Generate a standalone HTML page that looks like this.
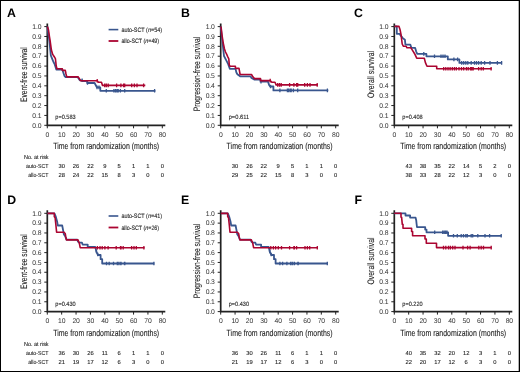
<!DOCTYPE html>
<html><head><meta charset="utf-8"><style>
html,body{margin:0;padding:0;background:#fff;}
body{width:520px;height:372px;overflow:hidden;}
svg{display:block;will-change:transform;}
text{font-family:"Liberation Sans",sans-serif;fill:#222;text-rendering:geometricPrecision;stroke:#222;stroke-width:0.1px;}
.let{font-size:12.3px;font-weight:bold;fill:#000;stroke:none;}
.tk{font-size:6.8px;letter-spacing:-0.15px;stroke:none;fill:#333;}
.xl{font-size:9px;}
.yl{font-size:9.4px;}
.pv{font-size:6.2px;}
.rk{font-size:5.8px;}
.lg{font-size:6.3px;}
</style></head><body>
<svg width="520" height="372" viewBox="0 0 520 372">
<rect x="0.5" y="0.5" width="519" height="371" fill="#fff" stroke="#000" stroke-width="1"/>
<rect x="518" y="0" width="1" height="372" fill="#000" fill-opacity="0.3"/>
<text x="7.0" y="17.1" class="let">A</text>
<path d="M47.3 23.6V125.3H165.3" stroke="#222" stroke-width="1.7" fill="none"/>
<path d="M44.3 125.30H47.3M44.3 115.43H47.3M44.3 105.56H47.3M44.3 95.69H47.3M44.3 85.82H47.3M44.3 75.95H47.3M44.3 66.08H47.3M44.3 56.21H47.3M44.3 46.34H47.3M44.3 36.47H47.3M44.3 26.60H47.3M47.30 125.3V128.3M61.67 125.3V128.3M76.05 125.3V128.3M90.42 125.3V128.3M104.80 125.3V128.3M119.17 125.3V128.3M133.55 125.3V128.3M147.93 125.3V128.3M162.30 125.3V128.3" stroke="#222" stroke-width="1" fill="none"/>
<text x="41.3" y="127.50" class="tk" text-anchor="end">0.0</text>
<text x="41.3" y="117.63" class="tk" text-anchor="end">0.1</text>
<text x="41.3" y="107.76" class="tk" text-anchor="end">0.2</text>
<text x="41.3" y="97.89" class="tk" text-anchor="end">0.3</text>
<text x="41.3" y="88.02" class="tk" text-anchor="end">0.4</text>
<text x="41.3" y="78.15" class="tk" text-anchor="end">0.5</text>
<text x="41.3" y="68.28" class="tk" text-anchor="end">0.6</text>
<text x="41.3" y="58.41" class="tk" text-anchor="end">0.7</text>
<text x="41.3" y="48.54" class="tk" text-anchor="end">0.8</text>
<text x="41.3" y="38.67" class="tk" text-anchor="end">0.9</text>
<text x="41.3" y="28.80" class="tk" text-anchor="end">1.0</text>
<text x="47.30" y="136.9" class="tk" text-anchor="middle">0</text>
<text x="61.67" y="136.9" class="tk" text-anchor="middle">10</text>
<text x="76.05" y="136.9" class="tk" text-anchor="middle">20</text>
<text x="90.42" y="136.9" class="tk" text-anchor="middle">30</text>
<text x="104.80" y="136.9" class="tk" text-anchor="middle">40</text>
<text x="119.17" y="136.9" class="tk" text-anchor="middle">50</text>
<text x="133.55" y="136.9" class="tk" text-anchor="middle">60</text>
<text x="147.93" y="136.9" class="tk" text-anchor="middle">70</text>
<text x="162.30" y="136.9" class="tk" text-anchor="middle">80</text>
<text x="53.2" y="149.3" class="xl" textLength="106" lengthAdjust="spacingAndGlyphs">Time from randomization (months)</text>
<text transform="translate(26.7,74.6) rotate(-90)" class="yl" text-anchor="middle" textLength="54.6" lengthAdjust="spacingAndGlyphs">Event-free survival</text>
<text x="55.3" y="119.2" class="pv" textLength="20.4" lengthAdjust="spacingAndGlyphs">p=0.583</text>
<text x="61.67" y="168.1" class="rk" text-anchor="middle">30</text>
<text x="76.05" y="168.1" class="rk" text-anchor="middle">26</text>
<text x="90.42" y="168.1" class="rk" text-anchor="middle">22</text>
<text x="104.80" y="168.1" class="rk" text-anchor="middle">9</text>
<text x="119.17" y="168.1" class="rk" text-anchor="middle">5</text>
<text x="133.55" y="168.1" class="rk" text-anchor="middle">1</text>
<text x="147.93" y="168.1" class="rk" text-anchor="middle">1</text>
<text x="162.30" y="168.1" class="rk" text-anchor="middle">0</text>
<text x="61.67" y="177.0" class="rk" text-anchor="middle">28</text>
<text x="76.05" y="177.0" class="rk" text-anchor="middle">24</text>
<text x="90.42" y="177.0" class="rk" text-anchor="middle">22</text>
<text x="104.80" y="177.0" class="rk" text-anchor="middle">15</text>
<text x="119.17" y="177.0" class="rk" text-anchor="middle">8</text>
<text x="133.55" y="177.0" class="rk" text-anchor="middle">3</text>
<text x="147.93" y="177.0" class="rk" text-anchor="middle">0</text>
<text x="162.30" y="177.0" class="rk" text-anchor="middle">0</text>
<text x="24.0" y="158.9" class="rk" textLength="24.6" lengthAdjust="spacingAndGlyphs">No. at risk</text>
<text x="26.0" y="168.1" class="rk" textLength="22.6" lengthAdjust="spacingAndGlyphs">auto-SCT</text>
<text x="28.2" y="177.0" class="rk" textLength="20.4" lengthAdjust="spacingAndGlyphs">allo-SCT</text>
<path d="M108.6 29.6H118.3" stroke="#39568e" stroke-width="1.6"/>
<path d="M108.6 41.0H118.3" stroke="#ab0531" stroke-width="1.8"/>
<text x="121.4" y="31.7" class="lg" textLength="40.6" lengthAdjust="spacingAndGlyphs">auto-SCT (<tspan font-style="italic">n</tspan>=54)</text>
<text x="121.4" y="43.0" class="lg" textLength="37.7" lengthAdjust="spacingAndGlyphs">allo-SCT (<tspan font-style="italic">n</tspan>=49)</text>
<text x="181.0" y="17.1" class="let">B</text>
<path d="M220.7 23.6V125.3H338.7" stroke="#222" stroke-width="1.7" fill="none"/>
<path d="M217.7 125.30H220.7M217.7 115.43H220.7M217.7 105.56H220.7M217.7 95.69H220.7M217.7 85.82H220.7M217.7 75.95H220.7M217.7 66.08H220.7M217.7 56.21H220.7M217.7 46.34H220.7M217.7 36.47H220.7M217.7 26.60H220.7M220.70 125.3V128.3M235.07 125.3V128.3M249.45 125.3V128.3M263.82 125.3V128.3M278.20 125.3V128.3M292.57 125.3V128.3M306.95 125.3V128.3M321.32 125.3V128.3M335.70 125.3V128.3" stroke="#222" stroke-width="1" fill="none"/>
<text x="214.7" y="127.50" class="tk" text-anchor="end">0.0</text>
<text x="214.7" y="117.63" class="tk" text-anchor="end">0.1</text>
<text x="214.7" y="107.76" class="tk" text-anchor="end">0.2</text>
<text x="214.7" y="97.89" class="tk" text-anchor="end">0.3</text>
<text x="214.7" y="88.02" class="tk" text-anchor="end">0.4</text>
<text x="214.7" y="78.15" class="tk" text-anchor="end">0.5</text>
<text x="214.7" y="68.28" class="tk" text-anchor="end">0.6</text>
<text x="214.7" y="58.41" class="tk" text-anchor="end">0.7</text>
<text x="214.7" y="48.54" class="tk" text-anchor="end">0.8</text>
<text x="214.7" y="38.67" class="tk" text-anchor="end">0.9</text>
<text x="214.7" y="28.80" class="tk" text-anchor="end">1.0</text>
<text x="220.70" y="136.9" class="tk" text-anchor="middle">0</text>
<text x="235.07" y="136.9" class="tk" text-anchor="middle">10</text>
<text x="249.45" y="136.9" class="tk" text-anchor="middle">20</text>
<text x="263.82" y="136.9" class="tk" text-anchor="middle">30</text>
<text x="278.20" y="136.9" class="tk" text-anchor="middle">40</text>
<text x="292.57" y="136.9" class="tk" text-anchor="middle">50</text>
<text x="306.95" y="136.9" class="tk" text-anchor="middle">60</text>
<text x="321.32" y="136.9" class="tk" text-anchor="middle">70</text>
<text x="335.70" y="136.9" class="tk" text-anchor="middle">80</text>
<text x="226.6" y="149.3" class="xl" textLength="106" lengthAdjust="spacingAndGlyphs">Time from randomization (months)</text>
<text transform="translate(200.1,73.9) rotate(-90)" class="yl" text-anchor="middle" textLength="74.5" lengthAdjust="spacingAndGlyphs">Progression-free survival</text>
<text x="228.7" y="119.2" class="pv" textLength="20.4" lengthAdjust="spacingAndGlyphs">p=0.611</text>
<text x="235.07" y="168.1" class="rk" text-anchor="middle">30</text>
<text x="249.45" y="168.1" class="rk" text-anchor="middle">26</text>
<text x="263.82" y="168.1" class="rk" text-anchor="middle">22</text>
<text x="278.20" y="168.1" class="rk" text-anchor="middle">9</text>
<text x="292.57" y="168.1" class="rk" text-anchor="middle">5</text>
<text x="306.95" y="168.1" class="rk" text-anchor="middle">1</text>
<text x="321.32" y="168.1" class="rk" text-anchor="middle">1</text>
<text x="335.70" y="168.1" class="rk" text-anchor="middle">0</text>
<text x="235.07" y="177.0" class="rk" text-anchor="middle">29</text>
<text x="249.45" y="177.0" class="rk" text-anchor="middle">25</text>
<text x="263.82" y="177.0" class="rk" text-anchor="middle">22</text>
<text x="278.20" y="177.0" class="rk" text-anchor="middle">15</text>
<text x="292.57" y="177.0" class="rk" text-anchor="middle">8</text>
<text x="306.95" y="177.0" class="rk" text-anchor="middle">3</text>
<text x="321.32" y="177.0" class="rk" text-anchor="middle">0</text>
<text x="335.70" y="177.0" class="rk" text-anchor="middle">0</text>
<text x="354.0" y="17.1" class="let">C</text>
<path d="M394.3 23.6V125.3H512.3" stroke="#222" stroke-width="1.7" fill="none"/>
<path d="M391.3 125.30H394.3M391.3 115.43H394.3M391.3 105.56H394.3M391.3 95.69H394.3M391.3 85.82H394.3M391.3 75.95H394.3M391.3 66.08H394.3M391.3 56.21H394.3M391.3 46.34H394.3M391.3 36.47H394.3M391.3 26.60H394.3M394.30 125.3V128.3M408.68 125.3V128.3M423.05 125.3V128.3M437.43 125.3V128.3M451.80 125.3V128.3M466.18 125.3V128.3M480.55 125.3V128.3M494.93 125.3V128.3M509.30 125.3V128.3" stroke="#222" stroke-width="1" fill="none"/>
<text x="388.3" y="127.50" class="tk" text-anchor="end">0.0</text>
<text x="388.3" y="117.63" class="tk" text-anchor="end">0.1</text>
<text x="388.3" y="107.76" class="tk" text-anchor="end">0.2</text>
<text x="388.3" y="97.89" class="tk" text-anchor="end">0.3</text>
<text x="388.3" y="88.02" class="tk" text-anchor="end">0.4</text>
<text x="388.3" y="78.15" class="tk" text-anchor="end">0.5</text>
<text x="388.3" y="68.28" class="tk" text-anchor="end">0.6</text>
<text x="388.3" y="58.41" class="tk" text-anchor="end">0.7</text>
<text x="388.3" y="48.54" class="tk" text-anchor="end">0.8</text>
<text x="388.3" y="38.67" class="tk" text-anchor="end">0.9</text>
<text x="388.3" y="28.80" class="tk" text-anchor="end">1.0</text>
<text x="394.30" y="136.9" class="tk" text-anchor="middle">0</text>
<text x="408.68" y="136.9" class="tk" text-anchor="middle">10</text>
<text x="423.05" y="136.9" class="tk" text-anchor="middle">20</text>
<text x="437.43" y="136.9" class="tk" text-anchor="middle">30</text>
<text x="451.80" y="136.9" class="tk" text-anchor="middle">40</text>
<text x="466.18" y="136.9" class="tk" text-anchor="middle">50</text>
<text x="480.55" y="136.9" class="tk" text-anchor="middle">60</text>
<text x="494.93" y="136.9" class="tk" text-anchor="middle">70</text>
<text x="509.30" y="136.9" class="tk" text-anchor="middle">80</text>
<text x="400.2" y="149.3" class="xl" textLength="106" lengthAdjust="spacingAndGlyphs">Time from randomization (months)</text>
<text transform="translate(373.7,74.5) rotate(-90)" class="yl" text-anchor="middle" textLength="47.0" lengthAdjust="spacingAndGlyphs">Overall survival</text>
<text x="402.3" y="119.2" class="pv" textLength="20.4" lengthAdjust="spacingAndGlyphs">p=0.408</text>
<text x="408.68" y="168.1" class="rk" text-anchor="middle">43</text>
<text x="423.05" y="168.1" class="rk" text-anchor="middle">38</text>
<text x="437.43" y="168.1" class="rk" text-anchor="middle">35</text>
<text x="451.80" y="168.1" class="rk" text-anchor="middle">22</text>
<text x="466.18" y="168.1" class="rk" text-anchor="middle">14</text>
<text x="480.55" y="168.1" class="rk" text-anchor="middle">5</text>
<text x="494.93" y="168.1" class="rk" text-anchor="middle">2</text>
<text x="509.30" y="168.1" class="rk" text-anchor="middle">0</text>
<text x="408.68" y="177.0" class="rk" text-anchor="middle">38</text>
<text x="423.05" y="177.0" class="rk" text-anchor="middle">33</text>
<text x="437.43" y="177.0" class="rk" text-anchor="middle">28</text>
<text x="451.80" y="177.0" class="rk" text-anchor="middle">22</text>
<text x="466.18" y="177.0" class="rk" text-anchor="middle">12</text>
<text x="480.55" y="177.0" class="rk" text-anchor="middle">3</text>
<text x="494.93" y="177.0" class="rk" text-anchor="middle">0</text>
<text x="509.30" y="177.0" class="rk" text-anchor="middle">0</text>
<text x="7.2" y="203.8" class="let">D</text>
<path d="M47.3 210.3V311.6H165.3" stroke="#222" stroke-width="1.7" fill="none"/>
<path d="M44.3 311.60H47.3M44.3 301.77H47.3M44.3 291.94H47.3M44.3 282.11H47.3M44.3 272.28H47.3M44.3 262.45H47.3M44.3 252.62H47.3M44.3 242.79H47.3M44.3 232.96H47.3M44.3 223.13H47.3M44.3 213.30H47.3M47.30 311.6V314.6M61.67 311.6V314.6M76.05 311.6V314.6M90.42 311.6V314.6M104.80 311.6V314.6M119.17 311.6V314.6M133.55 311.6V314.6M147.93 311.6V314.6M162.30 311.6V314.6" stroke="#222" stroke-width="1" fill="none"/>
<text x="41.3" y="313.80" class="tk" text-anchor="end">0.0</text>
<text x="41.3" y="303.97" class="tk" text-anchor="end">0.1</text>
<text x="41.3" y="294.14" class="tk" text-anchor="end">0.2</text>
<text x="41.3" y="284.31" class="tk" text-anchor="end">0.3</text>
<text x="41.3" y="274.48" class="tk" text-anchor="end">0.4</text>
<text x="41.3" y="264.65" class="tk" text-anchor="end">0.5</text>
<text x="41.3" y="254.82" class="tk" text-anchor="end">0.6</text>
<text x="41.3" y="244.99" class="tk" text-anchor="end">0.7</text>
<text x="41.3" y="235.16" class="tk" text-anchor="end">0.8</text>
<text x="41.3" y="225.33" class="tk" text-anchor="end">0.9</text>
<text x="41.3" y="215.50" class="tk" text-anchor="end">1.0</text>
<text x="47.30" y="323.2" class="tk" text-anchor="middle">0</text>
<text x="61.67" y="323.2" class="tk" text-anchor="middle">10</text>
<text x="76.05" y="323.2" class="tk" text-anchor="middle">20</text>
<text x="90.42" y="323.2" class="tk" text-anchor="middle">30</text>
<text x="104.80" y="323.2" class="tk" text-anchor="middle">40</text>
<text x="119.17" y="323.2" class="tk" text-anchor="middle">50</text>
<text x="133.55" y="323.2" class="tk" text-anchor="middle">60</text>
<text x="147.93" y="323.2" class="tk" text-anchor="middle">70</text>
<text x="162.30" y="323.2" class="tk" text-anchor="middle">80</text>
<text x="53.2" y="335.6" class="xl" textLength="106" lengthAdjust="spacingAndGlyphs">Time from randomization (months)</text>
<text transform="translate(26.7,261.6) rotate(-90)" class="yl" text-anchor="middle" textLength="54.6" lengthAdjust="spacingAndGlyphs">Event-free survival</text>
<text x="55.3" y="305.5" class="pv" textLength="20.4" lengthAdjust="spacingAndGlyphs">p=0.430</text>
<text x="61.67" y="354.8" class="rk" text-anchor="middle">36</text>
<text x="76.05" y="354.8" class="rk" text-anchor="middle">30</text>
<text x="90.42" y="354.8" class="rk" text-anchor="middle">26</text>
<text x="104.80" y="354.8" class="rk" text-anchor="middle">11</text>
<text x="119.17" y="354.8" class="rk" text-anchor="middle">6</text>
<text x="133.55" y="354.8" class="rk" text-anchor="middle">1</text>
<text x="147.93" y="354.8" class="rk" text-anchor="middle">1</text>
<text x="162.30" y="354.8" class="rk" text-anchor="middle">0</text>
<text x="61.67" y="363.7" class="rk" text-anchor="middle">21</text>
<text x="76.05" y="363.7" class="rk" text-anchor="middle">19</text>
<text x="90.42" y="363.7" class="rk" text-anchor="middle">17</text>
<text x="104.80" y="363.7" class="rk" text-anchor="middle">12</text>
<text x="119.17" y="363.7" class="rk" text-anchor="middle">6</text>
<text x="133.55" y="363.7" class="rk" text-anchor="middle">3</text>
<text x="147.93" y="363.7" class="rk" text-anchor="middle">0</text>
<text x="162.30" y="363.7" class="rk" text-anchor="middle">0</text>
<text x="24.0" y="345.6" class="rk" textLength="24.6" lengthAdjust="spacingAndGlyphs">No. at risk</text>
<text x="26.0" y="354.8" class="rk" textLength="22.6" lengthAdjust="spacingAndGlyphs">auto-SCT</text>
<text x="28.2" y="363.7" class="rk" textLength="20.4" lengthAdjust="spacingAndGlyphs">allo-SCT</text>
<path d="M108.6 216.0H118.3" stroke="#39568e" stroke-width="1.6"/>
<path d="M108.6 227.5H118.3" stroke="#ab0531" stroke-width="1.8"/>
<text x="121.4" y="218.1" class="lg" textLength="40.6" lengthAdjust="spacingAndGlyphs">auto-SCT (<tspan font-style="italic">n</tspan>=41)</text>
<text x="121.4" y="229.5" class="lg" textLength="37.7" lengthAdjust="spacingAndGlyphs">allo-SCT (<tspan font-style="italic">n</tspan>=26)</text>
<text x="181.1" y="203.8" class="let">E</text>
<path d="M220.7 210.3V311.6H338.7" stroke="#222" stroke-width="1.7" fill="none"/>
<path d="M217.7 311.60H220.7M217.7 301.77H220.7M217.7 291.94H220.7M217.7 282.11H220.7M217.7 272.28H220.7M217.7 262.45H220.7M217.7 252.62H220.7M217.7 242.79H220.7M217.7 232.96H220.7M217.7 223.13H220.7M217.7 213.30H220.7M220.70 311.6V314.6M235.07 311.6V314.6M249.45 311.6V314.6M263.82 311.6V314.6M278.20 311.6V314.6M292.57 311.6V314.6M306.95 311.6V314.6M321.32 311.6V314.6M335.70 311.6V314.6" stroke="#222" stroke-width="1" fill="none"/>
<text x="214.7" y="313.80" class="tk" text-anchor="end">0.0</text>
<text x="214.7" y="303.97" class="tk" text-anchor="end">0.1</text>
<text x="214.7" y="294.14" class="tk" text-anchor="end">0.2</text>
<text x="214.7" y="284.31" class="tk" text-anchor="end">0.3</text>
<text x="214.7" y="274.48" class="tk" text-anchor="end">0.4</text>
<text x="214.7" y="264.65" class="tk" text-anchor="end">0.5</text>
<text x="214.7" y="254.82" class="tk" text-anchor="end">0.6</text>
<text x="214.7" y="244.99" class="tk" text-anchor="end">0.7</text>
<text x="214.7" y="235.16" class="tk" text-anchor="end">0.8</text>
<text x="214.7" y="225.33" class="tk" text-anchor="end">0.9</text>
<text x="214.7" y="215.50" class="tk" text-anchor="end">1.0</text>
<text x="220.70" y="323.2" class="tk" text-anchor="middle">0</text>
<text x="235.07" y="323.2" class="tk" text-anchor="middle">10</text>
<text x="249.45" y="323.2" class="tk" text-anchor="middle">20</text>
<text x="263.82" y="323.2" class="tk" text-anchor="middle">30</text>
<text x="278.20" y="323.2" class="tk" text-anchor="middle">40</text>
<text x="292.57" y="323.2" class="tk" text-anchor="middle">50</text>
<text x="306.95" y="323.2" class="tk" text-anchor="middle">60</text>
<text x="321.32" y="323.2" class="tk" text-anchor="middle">70</text>
<text x="335.70" y="323.2" class="tk" text-anchor="middle">80</text>
<text x="226.6" y="335.6" class="xl" textLength="106" lengthAdjust="spacingAndGlyphs">Time from randomization (months)</text>
<text transform="translate(200.1,260.9) rotate(-90)" class="yl" text-anchor="middle" textLength="74.5" lengthAdjust="spacingAndGlyphs">Progression-free survival</text>
<text x="228.7" y="305.5" class="pv" textLength="20.4" lengthAdjust="spacingAndGlyphs">p=0.430</text>
<text x="235.07" y="354.8" class="rk" text-anchor="middle">36</text>
<text x="249.45" y="354.8" class="rk" text-anchor="middle">30</text>
<text x="263.82" y="354.8" class="rk" text-anchor="middle">26</text>
<text x="278.20" y="354.8" class="rk" text-anchor="middle">11</text>
<text x="292.57" y="354.8" class="rk" text-anchor="middle">6</text>
<text x="306.95" y="354.8" class="rk" text-anchor="middle">1</text>
<text x="321.32" y="354.8" class="rk" text-anchor="middle">1</text>
<text x="335.70" y="354.8" class="rk" text-anchor="middle">0</text>
<text x="235.07" y="363.7" class="rk" text-anchor="middle">21</text>
<text x="249.45" y="363.7" class="rk" text-anchor="middle">19</text>
<text x="263.82" y="363.7" class="rk" text-anchor="middle">17</text>
<text x="278.20" y="363.7" class="rk" text-anchor="middle">12</text>
<text x="292.57" y="363.7" class="rk" text-anchor="middle">6</text>
<text x="306.95" y="363.7" class="rk" text-anchor="middle">3</text>
<text x="321.32" y="363.7" class="rk" text-anchor="middle">0</text>
<text x="335.70" y="363.7" class="rk" text-anchor="middle">0</text>
<text x="354.5" y="203.8" class="let">F</text>
<path d="M394.3 210.3V311.6H512.3" stroke="#222" stroke-width="1.7" fill="none"/>
<path d="M391.3 311.60H394.3M391.3 301.77H394.3M391.3 291.94H394.3M391.3 282.11H394.3M391.3 272.28H394.3M391.3 262.45H394.3M391.3 252.62H394.3M391.3 242.79H394.3M391.3 232.96H394.3M391.3 223.13H394.3M391.3 213.30H394.3M394.30 311.6V314.6M408.68 311.6V314.6M423.05 311.6V314.6M437.43 311.6V314.6M451.80 311.6V314.6M466.18 311.6V314.6M480.55 311.6V314.6M494.93 311.6V314.6M509.30 311.6V314.6" stroke="#222" stroke-width="1" fill="none"/>
<text x="388.3" y="313.80" class="tk" text-anchor="end">0.0</text>
<text x="388.3" y="303.97" class="tk" text-anchor="end">0.1</text>
<text x="388.3" y="294.14" class="tk" text-anchor="end">0.2</text>
<text x="388.3" y="284.31" class="tk" text-anchor="end">0.3</text>
<text x="388.3" y="274.48" class="tk" text-anchor="end">0.4</text>
<text x="388.3" y="264.65" class="tk" text-anchor="end">0.5</text>
<text x="388.3" y="254.82" class="tk" text-anchor="end">0.6</text>
<text x="388.3" y="244.99" class="tk" text-anchor="end">0.7</text>
<text x="388.3" y="235.16" class="tk" text-anchor="end">0.8</text>
<text x="388.3" y="225.33" class="tk" text-anchor="end">0.9</text>
<text x="388.3" y="215.50" class="tk" text-anchor="end">1.0</text>
<text x="394.30" y="323.2" class="tk" text-anchor="middle">0</text>
<text x="408.68" y="323.2" class="tk" text-anchor="middle">10</text>
<text x="423.05" y="323.2" class="tk" text-anchor="middle">20</text>
<text x="437.43" y="323.2" class="tk" text-anchor="middle">30</text>
<text x="451.80" y="323.2" class="tk" text-anchor="middle">40</text>
<text x="466.18" y="323.2" class="tk" text-anchor="middle">50</text>
<text x="480.55" y="323.2" class="tk" text-anchor="middle">60</text>
<text x="494.93" y="323.2" class="tk" text-anchor="middle">70</text>
<text x="509.30" y="323.2" class="tk" text-anchor="middle">80</text>
<text x="400.2" y="335.6" class="xl" textLength="106" lengthAdjust="spacingAndGlyphs">Time from randomization (months)</text>
<text transform="translate(373.7,261.0) rotate(-90)" class="yl" text-anchor="middle" textLength="47.0" lengthAdjust="spacingAndGlyphs">Overall survival</text>
<text x="402.3" y="305.5" class="pv" textLength="20.4" lengthAdjust="spacingAndGlyphs">p=0.220</text>
<text x="408.68" y="354.8" class="rk" text-anchor="middle">40</text>
<text x="423.05" y="354.8" class="rk" text-anchor="middle">35</text>
<text x="437.43" y="354.8" class="rk" text-anchor="middle">32</text>
<text x="451.80" y="354.8" class="rk" text-anchor="middle">20</text>
<text x="466.18" y="354.8" class="rk" text-anchor="middle">12</text>
<text x="480.55" y="354.8" class="rk" text-anchor="middle">3</text>
<text x="494.93" y="354.8" class="rk" text-anchor="middle">1</text>
<text x="509.30" y="354.8" class="rk" text-anchor="middle">0</text>
<text x="408.68" y="363.7" class="rk" text-anchor="middle">22</text>
<text x="423.05" y="363.7" class="rk" text-anchor="middle">20</text>
<text x="437.43" y="363.7" class="rk" text-anchor="middle">17</text>
<text x="451.80" y="363.7" class="rk" text-anchor="middle">12</text>
<text x="466.18" y="363.7" class="rk" text-anchor="middle">6</text>
<text x="480.55" y="363.7" class="rk" text-anchor="middle">3</text>
<text x="494.93" y="363.7" class="rk" text-anchor="middle">0</text>
<text x="509.30" y="363.7" class="rk" text-anchor="middle">0</text>
<path d="M47.4 26.5 L48.1 32 L49 38 L49.5 42 L50.3 50.1 L50.8 55.4 L51.9 58.1 L53 60.8 L53.5 62 L54.6 64.1 L56.3 69.5 H62.3 L63.1 72 L64.4 75.8 L65.6 77.1 H77.6 L79.8 80.3 H82.3 V81 H87.2 V83 H94.6 L95.9 85.5 L96.9 87.4 H100.3 V90.8 H155.4" stroke="#39568e" stroke-width="1.8" fill="none" stroke-linejoin="round"/>
<path d="M82.1 78.5V82.1 M87.5 81.2V84.8 M97.0 85.6V89.2 M99.0 85.6V89.2 M106.3 89.0V92.6 M113.9 89.0V92.6 M115.5 89.0V92.6 M117.0 89.0V92.6 M118.2 89.0V92.6 M120.4 89.0V92.6 M124.7 89.0V92.6 M154.6 89.0V92.6" stroke="#39568e" stroke-width="1.3" fill="none"/>
<path d="M47.4 26.5 L48.5 30 L49.4 36.4 L50.3 42 L51.4 50.1 L52.7 54.4 L54.1 56.5 L55.4 58.7 L55.8 62 L56.2 66 L57 68.8 H62.3 V70.4 H65.3 L66 74 L66.8 76.9 H78.2 L79.2 78.4 L80.5 80.7 H97.2 L98.4 82.3 H101.5 L102.5 85.4 H145.3" stroke="#ab0531" stroke-width="1.6" fill="none" stroke-linejoin="round"/>
<path d="M97.2 78.9V82.5 M104.7 83.6V87.2 M106.3 83.6V87.2 M108.2 83.6V87.2 M116.6 83.6V87.2 M120.9 83.6V87.2 M123.6 83.6V87.2 M124.7 83.6V87.2 M131.7 83.6V87.2 M134.4 83.6V87.2 M137.0 83.6V87.2 M143.6 83.6V87.2" stroke="#ab0531" stroke-width="1.3" fill="none"/>
<path d="M220.7 26.6 L221.6 34 L222.7 44 L223.6 52.4 L224 56 L226 59.8 L228.2 64.1 L229.8 68.8 H235.5 L236.4 72.5 L237.4 74.2 L240.1 76.3 H250.5 L251.5 77.9 L254.6 79.6 H260.5 V81.7 H268 L269.1 84.9 L270.2 86.5 H273.4 V90.4 H328.3" stroke="#39568e" stroke-width="1.8" fill="none" stroke-linejoin="round"/>
<path d="M261.0 79.9V83.5 M270.5 84.7V88.3 M279.9 88.6V92.2 M287.4 88.6V92.2 M288.5 88.6V92.2 M290.1 88.6V92.2 M291.2 88.6V92.2 M293.4 88.6V92.2 M297.7 88.6V92.2 M327.4 88.6V92.2" stroke="#39568e" stroke-width="1.3" fill="none"/>
<path d="M220.7 26.6 L221.2 28 L221.9 34.3 L223.2 43 L224.5 49 L225.5 52 L226.6 54.2 L227.7 56.6 L228.8 58.8 L229.3 65.2 L230.2 66.3 H235.4 V68.4 H239 L240.1 74.5 H251.5 L252.9 76.8 L254.6 78.6 H260.5 V80.6 H270.2 L271.8 82.2 H275 L276.1 84.9 H317.8" stroke="#ab0531" stroke-width="1.6" fill="none" stroke-linejoin="round"/>
<path d="M270.2 78.8V82.4 M277.7 83.1V86.7 M279.5 83.1V86.7 M281.2 83.1V86.7 M289.6 83.1V86.7 M293.9 83.1V86.7 M296.6 83.1V86.7 M297.7 83.1V86.7 M304.7 83.1V86.7 M307.4 83.1V86.7 M310.0 83.1V86.7 M317.2 83.1V86.7" stroke="#ab0531" stroke-width="1.3" fill="none"/>
<path d="M394.5 26.4 H396.8 V33.8 H399.5 L400.6 35.4 L402.8 38.1 L404.9 39.7 L405.4 44.6 H410.3 L411.4 47.8 H415.1 L416.2 51.6 L417.3 53.9 H426.4 V56.3 H447.8 V59.4 H459.4 V62.9 H502.1" stroke="#39568e" stroke-width="1.8" fill="none" stroke-linejoin="round"/>
<path d="M423.8 52.1V55.7 M434.5 54.5V58.1 M441.0 54.5V58.1 M443.0 54.5V58.1 M445.0 54.5V58.1 M453.9 57.6V61.2 M457.6 57.6V61.2 M461.7 61.1V64.7 M463.7 61.1V64.7 M465.8 61.1V64.7 M467.8 61.1V64.7 M471.2 61.1V64.7 M474.5 61.1V64.7 M476.5 61.1V64.7 M478.6 61.1V64.7 M481.2 61.1V64.7 M484.6 61.1V64.7 M490.0 61.1V64.7 M497.4 61.1V64.7 M501.6 61.1V64.7" stroke="#39568e" stroke-width="1.3" fill="none"/>
<path d="M394.5 26.4 H399 L400 29.5 L401.1 34.9 L402.2 44 L403.3 46.2 H406 L407 47.8 H410.8 L411.9 49.4 L414.6 53.7 L416.7 58.2 H424.3 L425.4 62.6 L427 66.3 H436.7 V68.8 H491.6" stroke="#ab0531" stroke-width="1.6" fill="none" stroke-linejoin="round"/>
<path d="M443.7 67.0V70.6 M445.8 67.0V70.6 M448.0 67.0V70.6 M450.1 67.0V70.6 M452.3 67.0V70.6 M454.4 67.0V70.6 M456.3 67.0V70.6 M459.0 67.0V70.6 M461.5 67.0V70.6 M463.7 67.0V70.6 M466.4 67.0V70.6 M468.2 67.0V70.6 M470.5 67.0V70.6 M471.8 67.0V70.6 M473.2 67.0V70.6 M478.6 67.0V70.6 M481.2 67.0V70.6 M483.3 67.0V70.6 M491.1 67.0V70.6" stroke="#ab0531" stroke-width="1.3" fill="none"/>
<path d="M47.5 213.4 H54.4 L55.8 216.7 L57.1 221.4 L57.8 225.5 H62.2 L63.1 230.2 L63.8 234.2 L65.2 236.2 L66.5 239.6 H77.3 L77.9 241.6 L79.3 242.7 H82 L82.6 244.6 H87.7 V246.8 H95.2 L95.8 249 L96.3 251.7 L97.4 253.8 L97.9 255 H100.6 V259.2 H102.2 V263.5 H154.3" stroke="#39568e" stroke-width="1.8" fill="none" stroke-linejoin="round"/>
<path d="M96.5 249.7V253.3 M97.8 252.7V256.3 M106.5 261.7V265.3 M109.2 261.7V265.3 M113.5 261.7V265.3 M117.3 261.7V265.3 M118.9 261.7V265.3 M121.0 261.7V265.3 M120.8 261.7V265.3 M124.5 261.7V265.3 M124.8 261.7V265.3 M153.9 261.7V265.3" stroke="#39568e" stroke-width="1.3" fill="none"/>
<path d="M47.5 213.4 H54.3 V216.8 L55.1 217.6 L55.9 225 L56.6 232.2 H63.8 L65.2 233.5 L65.8 236.9 L66.5 239.9 H77.9 L79.3 243 L80.2 247.7 H144.5" stroke="#ab0531" stroke-width="1.6" fill="none" stroke-linejoin="round"/>
<path d="M97.4 245.9V249.5 M100.0 245.9V249.5 M102.2 245.9V249.5 M104.9 245.9V249.5 M108.1 245.9V249.5 M116.2 245.9V249.5 M120.5 245.9V249.5 M121.0 245.9V249.5 M123.2 245.9V249.5 M131.6 245.9V249.5 M134.0 245.9V249.5 M136.3 245.9V249.5 M143.9 245.9V249.5" stroke="#ab0531" stroke-width="1.3" fill="none"/>
<path d="M220.9 213.4 H227.8 L229.2 216.7 L230.5 221.4 L231.2 225.5 H235.60000000000002 L236.5 230.2 L237.2 234.2 L238.60000000000002 236.2 L239.9 239.6 H250.7 L251.3 241.6 L252.7 242.7 H255.4 L256.0 244.6 H261.1 V246.8 H268.6 L269.2 249 L269.7 251.7 L270.8 253.8 L271.3 255 H274.0 V259.2 H275.6 V263.5 H327.70000000000005" stroke="#39568e" stroke-width="1.8" fill="none" stroke-linejoin="round"/>
<path d="M269.9 249.7V253.3 M271.2 252.7V256.3 M279.9 261.7V265.3 M282.6 261.7V265.3 M286.9 261.7V265.3 M290.7 261.7V265.3 M292.3 261.7V265.3 M294.4 261.7V265.3 M294.2 261.7V265.3 M297.9 261.7V265.3 M298.2 261.7V265.3 M327.3 261.7V265.3" stroke="#39568e" stroke-width="1.3" fill="none"/>
<path d="M220.9 213.4 H227.7 V216.8 L228.5 217.6 L229.3 225 L230.0 232.2 H237.2 L238.60000000000002 233.5 L239.2 236.9 L239.9 239.9 H251.3 L252.7 243 L253.60000000000002 247.7 H317.9" stroke="#ab0531" stroke-width="1.6" fill="none" stroke-linejoin="round"/>
<path d="M270.8 245.9V249.5 M273.4 245.9V249.5 M275.6 245.9V249.5 M278.3 245.9V249.5 M281.5 245.9V249.5 M289.6 245.9V249.5 M293.9 245.9V249.5 M294.4 245.9V249.5 M296.6 245.9V249.5 M305.0 245.9V249.5 M307.4 245.9V249.5 M309.7 245.9V249.5 M317.3 245.9V249.5" stroke="#ab0531" stroke-width="1.3" fill="none"/>
<path d="M394.3 213.3 H405.5 V215.5 H410.1 V217.6 H415.6 L416.2 220.2 L416.6 224 L417 227.1 H425.2 V229.6 H426.5 V232.3 H448.1 V235.8 H501.5" stroke="#39568e" stroke-width="1.8" fill="none" stroke-linejoin="round"/>
<path d="M434.7 230.4V234.0 M442.7 230.4V234.0 M444.2 230.4V234.0 M445.6 230.4V234.0 M447.0 230.4V234.0 M453.5 234.0V237.6 M457.3 234.0V237.6 M461.2 234.0V237.6 M463.5 234.0V237.6 M465.8 234.0V237.6 M467.3 234.0V237.6 M471.2 234.0V237.6 M472.7 234.0V237.6 M477.8 234.0V237.6 M485.0 234.0V237.6 M489.6 234.0V237.6 M501.2 234.0V237.6" stroke="#39568e" stroke-width="1.3" fill="none"/>
<path d="M394.3 213.3 H401 V217.2 H401.6 L402.3 224.3 H403 V228.3 H411.6 V231.5 H412.6 V235.8 H425 V239 H426.3 V243.2 H436.5 V247.6 H491.6" stroke="#ab0531" stroke-width="1.6" fill="none" stroke-linejoin="round"/>
<path d="M443.5 245.8V249.4 M445.8 245.8V249.4 M448.5 245.8V249.4 M450.4 245.8V249.4 M452.7 245.8V249.4 M455.0 245.8V249.4 M463.0 245.8V249.4 M467.6 245.8V249.4 M470.1 245.8V249.4 M478.8 245.8V249.4 M481.2 245.8V249.4 M483.5 245.8V249.4 M491.2 245.8V249.4" stroke="#ab0531" stroke-width="1.3" fill="none"/>
</svg>
</body></html>
